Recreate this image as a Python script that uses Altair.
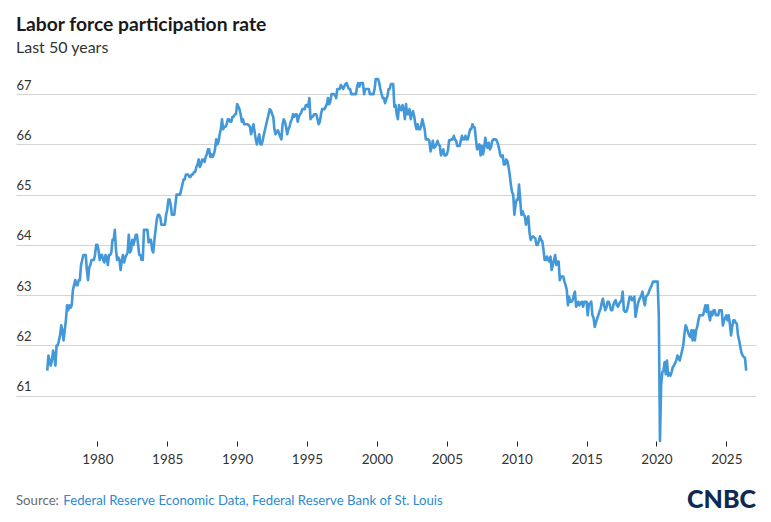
import altair as alt
import pandas as pd

# Monthly labor force participation rate (%), June 1976 through June 2026
START_YEAR, START_MONTH = 1976, 6

rate_1976_1979 = [
    61.5, 61.8, 61.7, 61.6, 61.7, 61.9, 61.8,
    61.6, 62.0, 62.0, 62.1, 62.2, 62.4, 62.3, 62.1, 62.3, 62.5, 62.8, 62.7,
    62.8, 62.75, 62.8, 63.1, 63.2, 63.3, 63.2, 63.2, 63.3, 63.3, 63.6, 63.7,
    63.8, 63.8, 63.8, 63.5, 63.3, 63.55, 63.6, 63.7, 63.7, 63.7, 63.8, 64.0,
]
rate_1980s = [
    64.0, 63.9, 63.7, 63.8, 63.8, 63.7, 63.65, 63.8, 63.75, 63.6, 63.8, 63.8,
    63.85, 64.1, 64.1, 64.3, 63.9, 63.7, 63.75, 63.7, 63.5, 63.7, 63.8, 63.65,
    63.75, 63.8, 63.85, 64.2, 63.85, 63.9, 64.1, 64.0, 64.1, 64.2, 64.2, 64.0,
    63.8, 63.8, 63.7, 63.7, 64.3, 64.3, 64.3, 64.3, 64.05, 64.1, 64.1, 63.9,
    63.85, 64.1, 64.3, 64.5, 64.6, 64.6, 64.55, 64.4, 64.4, 64.4, 64.4, 64.6,
    64.7, 64.9, 64.9, 64.8, 64.6, 64.6, 64.6, 64.8, 65.0, 65.0, 65.0, 65.0,
    65.1, 65.2, 65.3, 65.3, 65.4, 65.4, 65.4, 65.35, 65.35, 65.4, 65.4, 65.45,
    65.45, 65.55, 65.6, 65.7, 65.55, 65.6, 65.7, 65.7, 65.65, 65.75, 65.8, 65.9,
    65.9, 65.75, 65.8, 65.75, 65.8, 65.9, 66.1, 66.0, 66.05, 66.2, 66.3, 66.5,
    66.3, 66.35, 66.35, 66.4, 66.5, 66.5, 66.45, 66.45, 66.55, 66.55, 66.6, 66.6,
]
rate_1990s = [
    66.8, 66.75, 66.7, 66.6, 66.45, 66.5, 66.4, 66.4, 66.4, 66.4, 66.38, 66.35,
    66.2, 66.3, 66.4, 66.25, 66.1, 66.0, 66.1, 66.2, 66.0, 66.0, 66.08, 66.2,
    66.3, 66.4, 66.5, 66.6, 66.7, 66.68, 66.6, 66.55, 66.3, 66.2, 66.25, 66.28,
    66.22, 66.15, 66.1, 66.4, 66.5, 66.45, 66.35, 66.2, 66.3, 66.35, 66.45, 66.5,
    66.6, 66.55, 66.6, 66.6, 66.45, 66.55, 66.6, 66.63, 66.7, 66.7, 66.7, 66.78,
    66.78, 66.75, 66.92, 66.5, 66.55, 66.55, 66.6, 66.6, 66.6, 66.5, 66.4, 66.45,
    66.6, 66.7, 66.7, 66.7, 66.75, 66.8, 66.92, 66.8, 66.85, 67.0, 67.0, 67.0,
    66.98, 66.92, 67.1, 67.1, 67.1, 67.18, 67.15, 67.1, 67.15, 67.2, 67.22, 67.15,
    67.1, 67.1, 67.0, 67.0, 67.0, 67.0, 67.0, 67.15, 67.22, 67.15, 67.22, 67.22,
    67.22, 67.0, 67.1, 67.1, 67.1, 67.1, 67.0, 67.0, 67.0, 67.0, 67.1, 67.3,
]
rate_2000s = [
    67.3, 67.3, 67.22, 67.1, 67.0, 66.92, 66.92, 66.82, 66.9, 66.95, 67.1, 67.1,
    67.2, 67.2, 67.2, 66.75, 66.78, 66.6, 66.5, 66.78, 66.7, 66.68, 66.78, 66.7,
    66.5, 66.8, 66.6, 66.6, 66.7, 66.5, 66.6, 66.66, 66.56, 66.4, 66.3, 66.4,
    66.3, 66.3, 66.37, 66.5, 66.4, 66.3, 66.1, 66.1, 66.1, 66.07, 65.86, 65.95,
    66.07, 65.93, 65.95, 66.0, 66.07, 66.0, 65.97, 65.78, 65.85, 65.9, 65.78, 65.78,
    65.8, 65.88, 66.08, 66.08, 66.1, 66.1, 66.17, 66.1, 66.07, 65.97, 65.97, 65.97,
    66.07, 66.17, 66.1, 66.1, 66.17, 66.1, 66.1, 66.2, 66.3, 66.3, 66.4, 66.35,
    66.33, 66.1, 65.9, 65.95, 66.0, 65.78, 65.97, 65.8, 65.9, 66.13, 66.0, 65.93,
    66.03, 65.9, 65.95, 66.07, 66.1, 66.1, 66.1, 66.07, 66.0, 65.9, 65.78, 65.75,
    65.78, 65.6, 65.6, 65.7, 65.67, 65.55, 65.4, 65.2, 65.05, 65.0, 64.6, 64.8,
]
rate_2010s = [
    64.9, 64.9, 65.2, 64.9, 64.6, 64.67, 64.6, 64.57, 64.4, 64.5, 64.57, 64.25,
    64.1, 64.15, 64.17, 64.15, 64.13, 64.0, 64.0, 64.07, 64.17, 64.1, 64.07, 63.9,
    63.7, 63.7, 63.77, 63.7, 63.67, 63.77, 63.5, 63.6, 63.7, 63.8, 63.6, 63.67,
    63.67, 63.3, 63.37, 63.37, 63.37, 63.27, 63.2, 63.1, 62.8, 62.97, 62.87, 62.87,
    62.9, 63.0, 63.07, 62.77, 62.8, 62.87, 62.8, 62.85, 62.87, 62.77, 62.87, 62.87,
    62.87, 62.6, 62.83, 62.83, 62.87, 62.6, 62.55, 62.37, 62.45, 62.53, 62.6, 62.67,
    62.73, 62.85, 62.93, 62.8, 62.7, 62.75, 62.87, 62.87, 62.8, 62.7, 62.7, 62.8,
    62.87, 62.9, 62.8, 62.77, 62.83, 62.87, 62.9, 63.07, 62.7, 62.67, 62.67, 62.73,
    62.85, 62.97, 62.97, 62.9, 62.93, 62.97, 62.57, 62.7, 62.83, 62.9, 62.95, 63.0,
    63.07, 62.9, 62.8, 62.97, 63.0, 63.03, 63.1, 63.15, 63.2, 63.27, 63.27, 63.27,
]
rate_2020s = [
    63.27, 63.27, 62.6, 60.1, 61.2, 61.47, 61.5, 61.67, 61.43, 61.7, 61.4, 61.45,
    61.4, 61.47, 61.57, 61.6, 61.65, 61.7, 61.8, 61.75, 61.7, 61.8, 61.9, 62.0,
    62.23, 62.4, 62.35, 62.27, 62.2, 62.17, 62.3, 62.1, 62.3, 62.1, 62.3, 62.37,
    62.5, 62.6, 62.6, 62.6, 62.6, 62.7, 62.8, 62.67, 62.8, 62.6, 62.5, 62.67,
    62.6, 62.7, 62.7, 62.6, 62.6, 62.6, 62.7, 62.7, 62.7, 62.4, 62.5, 62.55,
    62.6, 62.5, 62.6, 62.43, 62.2, 62.37, 62.5, 62.5, 62.45, 62.43, 62.2, 62.1,
    61.97, 61.85, 61.8, 61.77, 61.75, 61.5,
]

values = rate_1976_1979 + rate_1980s + rate_1990s + rate_2000s + rate_2010s + rate_2020s
df = pd.DataFrame({
    "year": [START_YEAR + (START_MONTH - 1 + i) / 12 for i in range(len(values))],
    "rate": values,
})

TICK_YEARS = [1980, 1985, 1990, 1995, 2000, 2005, 2010, 2015, 2020, 2025]
GRID_VALUES = [61, 62, 63, 64, 65, 66, 67]
X_DOMAIN = [1974.18, 2027.12]
Y_DOMAIN = [60.1, 67.3]

FONT = "Lato"
LINE_BLUE = "#4298d8"
TEXT_DARK = "#333333"

line = alt.Chart(df).mark_line(color=LINE_BLUE, strokeWidth=2.6, strokeJoin="round").encode(
    x=alt.X(
        "year:Q",
        scale=alt.Scale(domain=X_DOMAIN, nice=False, zero=False),
        axis=alt.Axis(
            values=TICK_YEARS, format="d", title=None, grid=False, domain=False,
            tickSize=5, tickColor="#222222", tickWidth=1,
            labelPadding=6, labelFontSize=13.5, labelColor=TEXT_DARK, labelFont=FONT,
        ),
    ),
    y=alt.Y(
        "rate:Q",
        scale=alt.Scale(domain=Y_DOMAIN, nice=False, zero=False),
        axis=alt.Axis(
            values=GRID_VALUES, format="d", title=None, domain=False, ticks=False,
            tickSize=0, labelPadding=0, labelAlign="left", labelBaseline="alphabetic",
            labelOffset=-5, labelFontSize=13, labelColor=TEXT_DARK, labelFont=FONT,
            grid=True, gridColor="#d4d4d4", gridWidth=1,
        ),
    ),
)


def label(text, x, y, size, color, weight="normal", align="left"):
    return alt.Chart(pd.DataFrame({"t": [text]})).mark_text(
        align=align, baseline="alphabetic", font=FONT, fontSize=size,
        fontWeight=weight, color=color,
    ).encode(text="t:N", x=alt.value(x), y=alt.value(y))


title = label("Labor force participation rate", 0, -48.5, 19.3, "#1a1a1a", "bold")
subtitle = label("Last 50 years", 0, -25.7, 16, TEXT_DARK)
source_lead = label("Source:", 0, 426, 13.2, "#6b6b6b")
source_body = label(
    "Federal Reserve Economic Data, Federal Reserve Bank of St. Louis",
    47.3, 426, 13.2, "#2b8ad0",
)
logo = label("CNBC", 740, 429, 25, "#0d2a52", 900, align="right")

chart = alt.layer(line, title, subtitle, source_lead, source_body, logo).properties(
    width=740,
    height=362,
    autosize=alt.AutoSizeParams(type="none"),
    padding={"left": 16, "top": 79, "right": 15, "bottom": 81},
).configure_view(stroke=None)

chart.save("out.html", embed_options={"renderer": "svg", "actions": False})
